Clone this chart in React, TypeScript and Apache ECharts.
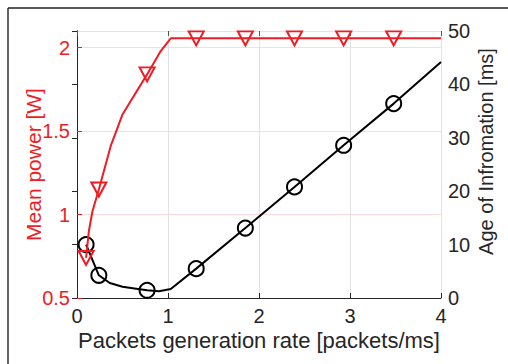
import React, { useEffect, useRef } from "react";
import * as echarts from "echarts";

const RED = "#ee1d25";
const DARK = "#262626";
const FONT = "'Liberation Sans', Arial, sans-serif";

const xTicks = [0, 1, 2, 3, 4];
const powerX = [0.1, 0.13, 0.17, 0.24, 0.37, 0.5, 0.77, 0.92, 1.03, 1.31, 1.85, 2.39, 2.93, 3.48, 4];
const powerY = [0.74, 0.9, 1.02, 1.15, 1.41, 1.6, 1.84, 1.98, 2.056, 2.056, 2.056, 2.056, 2.056, 2.056, 2.056];
const powerMarkerX = [0.1, 0.24, 0.77, 1.31, 1.85, 2.39, 2.93, 3.48];

const aoiX = [0.1, 0.24, 0.36, 0.5, 0.65, 0.77, 0.9, 1.03, 1.31, 1.85, 2.39, 2.93, 3.48, 4];
const aoiY = [10, 4.25, 2.8, 2.1, 1.75, 1.45, 1.25, 1.7, 5.5, 13.1, 20.8, 28.6, 36.4, 44.2];
const aoiMarkerX = [0.1, 0.24, 0.77, 1.31, 1.85, 2.39, 2.93, 3.48];

function build(xs: number[], ys: number[], markers: number[]) {
  return xs.map((x, i) =>
    markers.includes(x) ? { value: [x, ys[i]] } : { value: [x, ys[i]], symbol: "none" }
  );
}

export default function App() {
  const ref = useRef<HTMLDivElement>(null);
  useEffect(() => {
    if (!ref.current) return;
    const chart = echarts.init(ref.current, undefined, { renderer: "svg" });
    chart.setOption({
      animation: false,
      backgroundColor: "#fff",
      textStyle: { fontFamily: FONT },
      grid: { left: 77, right: 67, top: 31, bottom: 66 },
      graphic: [
        { type: "line", shape: { x1: 8, y1: 8, x2: 508, y2: 8 }, style: { stroke: "#222", lineWidth: 1.4 } },
        { type: "line", shape: { x1: 8, y1: 8, x2: 8, y2: 364 }, style: { stroke: "#222", lineWidth: 1.4 } },
      ],
      xAxis: [
        {
          type: "value",
          position: "bottom",
          min: xTicks[0],
          max: xTicks[xTicks.length - 1],
          interval: 1,
          axisLine: { lineStyle: { color: DARK, width: 1 } },
          axisTick: { inside: true, length: 5, lineStyle: { color: DARK } },
          axisLabel: { color: DARK, fontSize: 20, lineHeight: 16, margin: 10, fontFamily: FONT },
          splitLine: { show: true, lineStyle: { color: "#e2e2e2", width: 1 } },
          name: "Packets generation rate [packets/ms]",
          nameLocation: "middle",
          nameGap: 31,
          nameMoveOverlap: false,
          nameTextStyle: { color: DARK, fontSize: 22, lineHeight: 22, fontFamily: FONT },
        },
        {
          type: "value",
          position: "top",
          min: 0,
          max: 4,
          interval: 1,
          axisLine: { lineStyle: { color: "#fadad6", width: 1 } },
          axisTick: { inside: true, length: 5, lineStyle: { color: "#555" } },
          axisLabel: { show: false },
          splitLine: { show: false },
        },
      ],
      yAxis: [
        {
          type: "value",
          position: "left",
          min: 0.5,
          max: 2.1,
          interval: 0.5,
          axisLine: { show: true, lineStyle: { color: RED, width: 1 } },
          axisTick: { show: true, inside: true, length: 5, lineStyle: { color: RED } },
          axisLabel: { color: RED, fontSize: 20, margin: 7, fontFamily: FONT },
          splitLine: { show: true, lineStyle: { color: "#fbdcd8", width: 1 } },
          name: "Mean power [W]",
          nameLocation: "middle",
          nameGap: 33,
          nameMoveOverlap: false,
          nameTextStyle: { color: RED, fontSize: 21, fontFamily: FONT },
        },
        {
          type: "value",
          position: "right",
          min: 0,
          max: 50,
          interval: 10,
          axisLine: { show: true, lineStyle: { color: DARK, width: 1 } },
          axisTick: { show: true, inside: true, length: 5, lineStyle: { color: DARK } },
          axisLabel: { color: DARK, fontSize: 20, margin: 7, fontFamily: FONT },
          splitLine: { show: false },
          name: "Age of Infromation [ms]",
          nameLocation: "middle",
          nameGap: 35,
          nameMoveOverlap: false,
          nameTextStyle: { color: DARK, fontSize: 20, fontFamily: FONT, padding: [0, 0, 0, 26] },
        },
      ],
      series: [
        {
          type: "line",
          xAxisIndex: 0,
          yAxisIndex: 1,
          data: build(aoiX, aoiY, aoiMarkerX),
          symbol: "circle",
          symbolSize: 15,
          lineStyle: { color: "#000", width: 2 },
          itemStyle: { color: "rgba(0,0,0,0)", borderColor: "#000", borderWidth: 2 },
          z: 3,
        },
        {
          type: "line",
          xAxisIndex: 0,
          yAxisIndex: 0,
          data: build(powerX, powerY, powerMarkerX),
          symbol: "triangle",
          symbolRotate: 180,
          symbolSize: [15, 14],
          lineStyle: { color: RED, width: 2 },
          itemStyle: { color: "rgba(0,0,0,0)", borderColor: RED, borderWidth: 2 },
          z: 4,
        },
      ],
    });
    return () => chart.dispose();
  }, []);
  return <div ref={ref} style={{ position: "fixed", left: 0, top: 0, width: 508, height: 364 }} />;
}
